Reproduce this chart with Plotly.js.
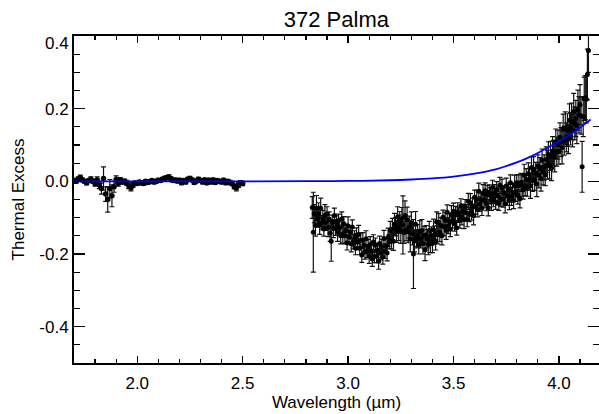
<!DOCTYPE html>
<html>
<head>
<meta charset="utf-8">
<script src="https://cdn.plot.ly/plotly-3.0.1.min.js"></script>
<style>html,body{margin:0;padding:0;background:#fff;}#chart{width:599px;height:414px;}</style>
</head>
<body>
<div id="chart"></div>
<script>
// Segment 1 (short wavelength) data
const wl1 = [1.70,1.71,1.72,1.73,1.74,1.75,1.76,1.77,1.78,1.79,1.80,1.81,1.82,1.83,1.84,1.85,1.86,1.87,1.88,1.89,1.90,1.91,1.92,1.93,1.94,1.95,1.96,1.97,1.98,1.99,2.00,2.01,2.02,2.03,2.04,2.05,2.06,2.07,2.08,2.09,2.10,2.11,2.12,2.13,2.14,2.15,2.16,2.17,2.18,2.19,2.20,2.21,2.22,2.23,2.24,2.25,2.26,2.27,2.28,2.29,2.30,2.31,2.32,2.33,2.34,2.35,2.36,2.37,2.38,2.39,2.40,2.41,2.42,2.43,2.44,2.45,2.46,2.47,2.48,2.49,2.50];
const te1 = [0.002,0.0,0.006,0.01,0.004,0.0,-0.004,0.002,0.006,0.0,-0.006,0.004,-0.01,-0.02,0.008,-0.035,-0.05,-0.02,-0.04,-0.015,0.005,-0.005,0.003,-0.002,0.0,-0.004,-0.012,-0.018,-0.01,-0.005,-0.006,-0.002,-0.004,-0.006,0.0,-0.003,-0.001,0.002,-0.002,0.0,0.003,0.002,0.006,0.008,0.01,0.012,0.007,0.002,0.004,0.001,0.003,-0.004,0.002,-0.002,0.006,0.008,0.004,-0.003,0.001,0.006,0.002,-0.002,0.004,-0.004,0.003,-0.002,0.004,-0.003,0.002,0.0,-0.002,0.003,-0.004,0.0,-0.003,-0.006,-0.014,-0.018,-0.01,-0.004,-0.006];
const err1 = [0.006,0.005,0.006,0.007,0.005,0.005,0.006,0.005,0.006,0.006,0.007,0.008,0.01,0.015,0.032,0.02,0.035,0.025,0.03,0.015,0.01,0.008,0.007,0.006,0.006,0.007,0.008,0.008,0.007,0.006,0.005,0.005,0.005,0.005,0.005,0.005,0.005,0.005,0.005,0.005,0.005,0.005,0.005,0.006,0.006,0.006,0.005,0.005,0.005,0.005,0.005,0.005,0.005,0.005,0.005,0.006,0.005,0.005,0.005,0.005,0.005,0.005,0.005,0.005,0.005,0.005,0.005,0.005,0.005,0.005,0.005,0.005,0.005,0.005,0.006,0.006,0.007,0.008,0.007,0.006,0.006];

// Segment 2 (3-micron region) data
const wl2 = [2.830,2.835,2.840,2.845,2.850,2.855,2.860,2.865,2.870,2.875,
2.880,2.885,2.890,2.895,2.900,2.905,2.910,2.915,2.920,2.925,
2.930,2.935,2.940,2.945,2.950,2.955,2.960,2.965,2.970,2.975,
2.980,2.985,2.990,2.995,3.000,3.005,3.010,3.015,3.020,3.025,
3.030,3.035,3.040,3.045,3.050,3.055,3.060,3.065,3.070,3.075,
3.080,3.085,3.090,3.095,3.100,3.105,3.110,3.115,3.120,3.125,
3.130,3.135,3.140,3.145,3.150,3.155,3.160,3.165,3.170,3.175,
3.180,3.185,3.190,3.195,3.200,3.205,3.210,3.215,3.220,3.225,
3.230,3.235,3.240,3.245,3.250,3.255,3.260,3.265,3.270,3.275,
3.280,3.285,3.290,3.295,3.300,3.305,3.310,3.315,3.320,3.325,
3.330,3.335,3.340,3.345,3.350,3.355,3.360,3.365,3.370,3.375,
3.380,3.385,3.390,3.395,3.400,3.405,3.410,3.415,3.420,3.425,
3.430,3.435,3.440,3.445,3.450,3.455,3.460,3.465,3.470,3.475,
3.480,3.485,3.490,3.495,3.500,3.505,3.510,3.515,3.520,3.525,
3.530,3.535,3.540,3.545,3.550,3.555,3.560,3.565,3.570,3.575,
3.580,3.585,3.590,3.595,3.600,3.605,3.610,3.615,3.620,3.625,
3.630,3.635,3.640,3.645,3.650,3.655,3.660,3.665,3.670,3.675,
3.680,3.685,3.690,3.695,3.700,3.705,3.710,3.715,3.720,3.725,
3.730,3.735,3.740,3.745,3.750,3.755,3.760,3.765,3.770,3.775,
3.780,3.785,3.790,3.795,3.800,3.805,3.810,3.815,3.820,3.825,
3.830,3.835,3.840,3.845,3.850,3.855,3.860,3.865,3.870,3.875,
3.880,3.885,3.890,3.895,3.900,3.905,3.910,3.915,3.920,3.925,
3.930,3.935,3.940,3.945,3.950,3.955,3.960,3.965,3.970,3.975,
3.980,3.985,3.990,3.995,4.000,4.005,4.010,4.015,4.020,4.025,
4.030,4.035,4.040,4.045,4.050,4.055,4.060,4.065,4.070,4.075,
4.080,4.085,4.090,4.095,4.100,4.105,4.110,4.115,4.120,4.125,
4.130,4.135,4.140];
const te2 = [-0.072,-0.140,-0.089,-0.121,-0.074,-0.104,-0.089,-0.121,-0.074,-0.114,
-0.105,-0.131,-0.094,-0.113,-0.090,-0.127,-0.104,-0.143,-0.165,-0.113,
-0.130,-0.094,-0.127,-0.115,-0.140,-0.108,-0.128,-0.150,-0.104,-0.145,
-0.117,-0.150,-0.136,-0.169,-0.123,-0.154,-0.140,-0.172,-0.126,-0.166,
-0.158,-0.184,-0.148,-0.168,-0.146,-0.184,-0.162,-0.203,-0.163,-0.176,
-0.194,-0.158,-0.192,-0.180,-0.206,-0.174,-0.193,-0.214,-0.167,-0.206,
-0.176,-0.206,-0.190,-0.220,-0.171,-0.198,-0.180,-0.208,-0.157,-0.192,
-0.178,-0.197,-0.154,-0.166,-0.135,-0.164,-0.132,-0.165,-0.118,-0.125,
-0.138,-0.098,-0.128,-0.113,-0.136,-0.102,-0.120,-0.141,-0.094,-0.134,
-0.106,-0.139,-0.126,-0.159,-0.114,-0.145,-0.200,-0.164,-0.118,-0.158,
-0.149,-0.175,-0.138,-0.158,-0.135,-0.172,-0.149,-0.188,-0.147,-0.158,
-0.174,-0.135,-0.166,-0.150,-0.171,-0.134,-0.148,-0.164,-0.112,-0.147,
-0.113,-0.141,-0.122,-0.150,-0.099,-0.125,-0.107,-0.135,-0.085,-0.122,
-0.110,-0.132,-0.092,-0.108,-0.082,-0.117,-0.091,-0.128,-0.084,-0.093,
-0.107,-0.068,-0.098,-0.083,-0.105,-0.070,-0.086,-0.105,-0.055,-0.091,
-0.059,-0.087,-0.068,-0.095,-0.044,-0.069,-0.050,-0.078,-0.027,-0.063,
-0.051,-0.074,-0.034,-0.051,-0.026,-0.061,-0.036,-0.073,-0.030,-0.040,
-0.055,-0.017,-0.048,-0.034,-0.057,-0.023,-0.040,-0.060,-0.011,-0.049,
-0.019,-0.049,-0.032,-0.062,-0.013,-0.041,-0.024,-0.053,-0.004,-0.041,
-0.030,-0.053,-0.013,-0.030,-0.004,-0.038,-0.012,-0.048,-0.003,-0.011,
-0.024,0.017,-0.012,0.005,-0.016,0.021,0.006,-0.012,0.038,0.002,
0.033,0.005,0.022,-0.007,0.043,0.017,0.035,0.008,0.059,0.025,
0.038,0.018,0.060,0.046,0.074,0.042,0.070,0.037,0.083,0.078,
0.066,0.109,0.082,0.101,0.082,0.121,0.108,0.093,0.145,0.112,
0.146,0.121,0.141,0.116,0.168,0.145,0.165,0.140,0.192,0.159,
0.173,0.154,0.196,0.183,0.211,0.180,0.040,0.178,0.227,0.230,
0.226,0.294,0.360];
const err2 = [0.03,0.11,0.025,0.03,0.035,0.022,0.03,0.025,0.028,0.02,
0.025,0.02,0.03,0.022,0.02,0.025,0.02,0.022,0.055,0.02,
0.025,0.02,0.022,0.02,0.025,0.018,0.02,0.022,0.02,0.025,
0.02,0.022,0.018,0.02,0.025,0.02,0.018,0.022,0.02,0.02,
0.022,0.018,0.02,0.02,0.025,0.018,0.02,0.02,0.022,0.018,
0.02,0.022,0.018,0.02,0.02,0.022,0.018,0.02,0.02,0.018,
0.02,0.018,0.02,0.022,0.02,0.018,0.02,0.02,0.022,0.02,
0.02,0.022,0.025,0.02,0.025,0.022,0.03,0.025,0.03,0.025,
0.03,0.028,0.035,0.03,0.035,0.03,0.08,0.03,0.04,0.03,
0.035,0.03,0.03,0.035,0.03,0.03,0.095,0.03,0.035,0.025,
0.03,0.025,0.03,0.025,0.03,0.028,0.025,0.03,0.025,0.025,
0.028,0.025,0.03,0.025,0.025,0.03,0.025,0.025,0.028,0.025,
0.025,0.025,0.022,0.025,0.02,0.025,0.022,0.025,0.02,0.022,
0.022,0.02,0.025,0.02,0.022,0.02,0.022,0.02,0.025,0.02,
0.022,0.02,0.022,0.02,0.025,0.02,0.022,0.02,0.022,0.02,
0.025,0.02,0.022,0.025,0.02,0.022,0.025,0.02,0.022,0.02,
0.022,0.02,0.025,0.02,0.022,0.02,0.025,0.022,0.02,0.022,
0.025,0.02,0.022,0.025,0.02,0.022,0.025,0.02,0.022,0.02,
0.025,0.022,0.02,0.025,0.022,0.025,0.02,0.025,0.022,0.025,
0.025,0.022,0.03,0.025,0.022,0.025,0.03,0.025,0.025,0.03,
0.025,0.03,0.028,0.03,0.025,0.03,0.03,0.035,0.03,0.03,
0.035,0.03,0.03,0.035,0.03,0.035,0.03,0.035,0.03,0.035,
0.035,0.03,0.035,0.04,0.035,0.035,0.04,0.035,0.04,0.035,
0.04,0.035,0.04,0.04,0.035,0.04,0.04,0.045,0.04,0.04,
0.045,0.04,0.045,0.04,0.045,0.045,0.05,0.045,0.05,0.045,
0.05,0.05,0.055,0.05,0.055,0.05,0.07,0.055,0.06,0.06,
0.065,0.07,0.06];

// Thermal model curve
const modelWl = [1.70,2.00,2.50,2.80,3.00,3.20,3.30,3.40,3.50,3.60,3.70,3.75,3.80,3.85,3.90,3.95,4.00,4.05,4.10,4.15];
const modelTe = [0.0,0.0,0.0,0.0005,0.001,0.003,0.005,0.008,0.013,0.021,0.033,0.042,0.052,0.064,0.078,0.094,0.11,0.128,0.148,0.17];

// Tick labels
const xTickVals = [2.0,2.5,3.0,3.5,4.0];
const xTickText = ['2.0','2.5','3.0','3.5','4.0'];
const yTickVals = [-0.4,-0.2,0.0,0.2,0.4];
const yTickText = ['-0.4','-0.2','0.0','0.2',''];
const yTopLabel = '0.4';

const font = 'Liberation Sans, Arial, Helvetica, sans-serif';
const errStyle = {type:'data', visible:true, color:'#111', thickness:1.2, width:2.5};

const traces = [
  {x: wl1, y: te1, type:'scatter', mode:'markers',
   marker:{color:'#000', size:5.5},
   error_y: Object.assign({array: err1}, errStyle), showlegend:false},
  {x: wl2, y: te2, type:'scatter', mode:'markers',
   marker:{color:'#000', size:5},
   error_y: Object.assign({array: err2}, errStyle), showlegend:false},
  {x: modelWl, y: modelTe, type:'scatter', mode:'lines',
   line:{color:'#0000ff', width:1.8, shape:'spline'}, showlegend:false}
];

const axisCommon = {
  showline:true, linecolor:'#000', linewidth:2, mirror:'ticks',
  ticks:'inside', tickcolor:'#000', tickwidth:1.5,
  showgrid:false, zeroline:false,
  tickfont:{family:font, size:17, color:'#000'}
};

const layout = {
  width:599, height:414,
  margin:{l:74, r:0, t:36, b:51, pad:0},
  paper_bgcolor:'#fff', plot_bgcolor:'#fff',
  font:{family:font, color:'#000'},
  title:{text:'372 Palma', font:{family:font, size:22, color:'#000'},
         x:0.5616, xanchor:'center', xref:'container', y:0.972, yanchor:'top'},
  xaxis: Object.assign({}, axisCommon, {
    range:[1.70, 4.19], tickmode:'array', tickvals:xTickVals, ticktext:xTickText,
    ticklen:7, ticklabelstandoff:4,
    minor:{tickmode:'linear', tick0:0, dtick:0.1, ticks:'inside', ticklen:4, tickcolor:'#000', tickwidth:1.2, showgrid:false},
    title:{text:'Wavelength (\u00b5m)', font:{family:font, size:17, color:'#000'}, standoff:0}
  }),
  yaxis: Object.assign({}, axisCommon, {
    range:[-0.5, 0.4], tickmode:'array', tickvals:yTickVals, ticktext:yTickText,
    ticklen:11,
    minor:{tickmode:'linear', tick0:0, dtick:0.05, ticks:'inside', ticklen:6, tickcolor:'#000', tickwidth:1.2, showgrid:false},
    title:{text:'Thermal Excess', font:{family:font, size:17, color:'#000'}, standoff:10}
  }),
  annotations:[
    {text:yTopLabel, xref:'paper', x:0, xanchor:'right', xshift:-3,
     yref:'y', y:0.4, yanchor:'middle', yshift:-7, showarrow:false,
     font:{family:font, size:17, color:'#000'}}
  ]
};

Plotly.newPlot('chart', traces, layout, {staticPlot:true, displayModeBar:false});
</script>
</body>
</html>
